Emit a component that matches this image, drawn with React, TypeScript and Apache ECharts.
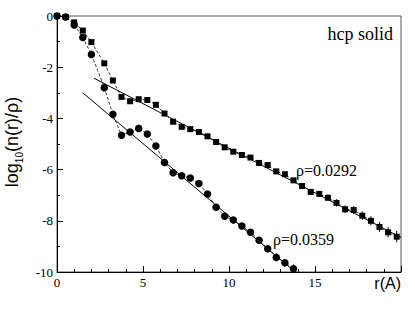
import React, { useEffect, useRef } from "react";
import * as echarts from "echarts";

const rValues = [0.0, 0.5, 1.0, 1.5, 2.0, 2.75, 3.25, 3.75, 4.25, 4.75, 5.25, 5.75, 6.25, 6.75, 7.25, 7.75, 8.25, 8.75, 9.25, 9.75, 10.25, 10.75, 11.25, 11.75, 12.25, 12.75, 13.25, 13.75, 14.25, 14.75, 15.25, 15.75, 16.25, 16.75, 17.25, 17.75, 18.25, 18.75, 19.25, 19.75];

const squareValues = [0.0, -0.04, -0.25, -0.57, -1.02, -1.85, -2.52, -3.16, -3.33, -3.25, -3.28, -3.47, -3.81, -4.13, -4.33, -4.42, -4.53, -4.70, -4.92, -5.13, -5.30, -5.43, -5.53, -5.74, -5.82, -6.07, -6.18, -6.42, -6.64, -6.87, -6.95, -7.10, -7.30, -7.55, -7.58, -7.80, -8.00, -8.24, -8.45, -8.62];
const squareErrors = [0, 0, 0, 0, 0, 0, 0, 0, 0, 0, 0, 0, 0, 0, 0, 0, 0, 0, 0, 0, 0, 0, 0, 0, 0, 0, 0.06, 0.08, 0.1, 0.1, 0.12, 0.12, 0.14, 0.15, 0.15, 0.17, 0.18, 0.19, 0.2, 0.22];

const circleValues = [0.0, -0.04, -0.35, -0.84, -1.5, -2.8, -3.84, -4.66, -4.53, -4.39, -4.61, -5.08, -5.72, -6.12, -6.24, -6.33, -6.54, -6.95, -7.47, -7.82, -7.97, -8.2, -8.45, -8.76, -9.09, -9.43, -9.64, -9.87];
const circleErrors = [0, 0, 0, 0, 0, 0, 0, 0, 0, 0, 0, 0, 0, 0, 0, 0, 0, 0, 0, 0, 0.08, 0.1, 0.1, 0.12, 0.12, 0.14, 0.15, 0.16];

const fitSquareR = [2.15, 20.0];
const fitSquareY = [-2.43, -8.65];
const fitCircleR = [1.5, 13.85];
const fitCircleY = [-3.0, -10.0];

const labelSquare = "ρ=0.0292";
const labelCircle = "ρ=0.0359";
const panelTitle = "hcp solid";
const xTitle = "r(A)";

const serif = "Liberation Serif";
const sans = "Liberation Sans";

function errorSeries(values: number[], errors: number[]) {
  return {
    type: "custom",
    silent: true,
    z: 3,
    renderItem: (params: any, api: any) => {
      const x = api.value(0);
      const y = api.value(1);
      const e = api.value(2);
      if (!e) return { type: "group", children: [] };
      const a = api.coord([x, y + e]);
      const b = api.coord([x, y - e]);
      return {
        type: "line",
        shape: { x1: a[0], y1: a[1], x2: b[0], y2: b[1] },
        style: { stroke: "#000", lineWidth: 1 },
      };
    },
    data: values.map((v, i) => [rValues[i], v, errors[i]]),
  };
}

export default function App() {
  const ref = useRef<HTMLDivElement>(null);
  useEffect(() => {
    if (!ref.current) return;
    const chart = echarts.init(ref.current, undefined, { renderer: "svg" });
    chart.setOption({
      animation: false,
      backgroundColor: "#fff",
      grid: {
        left: 57,
        top: 16,
        right: 14,
        bottom: 49,
        show: true,
        borderColor: "#555",
        borderWidth: 1,
        backgroundColor: "transparent",
      },
      xAxis: {
        type: "value",
        min: 0,
        max: 20,
        interval: 5,
        axisLine: { show: true, onZero: false, lineStyle: { color: "#000", width: 1 } },
        axisTick: { show: true, inside: true, length: 6, lineStyle: { color: "#000" } },
        minorTick: { show: true, splitNumber: 5, length: 3, lineStyle: { color: "#000" } },
        splitLine: { show: false },
        axisLabel: {
          show: true,
          margin: 4,
          color: "#000",
          fontFamily: serif,
          fontSize: 13,
          showMaxLabel: false,
          formatter: (v: number) => (v >= 20 ? "" : String(v)),
        },
      },
      yAxis: {
        type: "value",
        min: -10,
        max: 0,
        interval: 2,
        axisLine: { show: true, onZero: false, lineStyle: { color: "#000", width: 1 } },
        axisTick: { show: true, inside: true, length: 6, lineStyle: { color: "#000" } },
        minorTick: { show: true, splitNumber: 2, length: 3, lineStyle: { color: "#000" } },
        splitLine: { show: false },
        axisLabel: {
          show: true,
          margin: 4,
          color: "#000",
          fontFamily: serif,
          fontSize: 13,
        },
      },
      graphic: [
        {
          type: "text",
          x: 12,
          y: 142,
          rotation: Math.PI / 2,
          style: {
            text: "{a|log}{b|10}{a|(n(r)/ρ)}",
            align: "center",
            verticalAlign: "middle",
            fill: "#000",
            rich: {
              a: { fontFamily: sans, fontSize: 18, lineHeight: 24, fill: "#000" },
              b: { fontFamily: sans, fontSize: 10, lineHeight: 10, verticalAlign: "bottom", fill: "#000" },
            },
          },
        },
        {
          type: "text",
          x: 401,
          y: 275,
          style: { text: xTitle, align: "right", verticalAlign: "top", fontFamily: sans, fontSize: 16, fill: "#000" },
        },
        {
          type: "text",
          x: 393,
          y: 25,
          style: { text: panelTitle, align: "right", verticalAlign: "top", fontFamily: serif, fontSize: 18, fill: "#000" },
        },
        {
          type: "text",
          x: 296,
          y: 162,
          style: { text: labelSquare, align: "left", verticalAlign: "top", fontFamily: serif, fontSize: 16, fill: "#000" },
        },
        {
          type: "text",
          x: 273,
          y: 231,
          style: { text: labelCircle, align: "left", verticalAlign: "top", fontFamily: serif, fontSize: 16, fill: "#000" },
        },
      ],
      series: [
        {
          type: "line",
          data: fitSquareR.map((r, i) => [r, fitSquareY[i]]),
          showSymbol: false,
          symbol: "none",
          lineStyle: { color: "#000", width: 1, type: "solid" },
          z: 1,
          silent: true,
        },
        {
          type: "line",
          data: fitCircleR.map((r, i) => [r, fitCircleY[i]]),
          showSymbol: false,
          symbol: "none",
          lineStyle: { color: "#000", width: 1, type: "solid" },
          z: 1,
          silent: true,
        },
        {
          type: "line",
          data: rValues.map((r, i) => [r, squareValues[i]]),
          symbol: "rect",
          symbolSize: 6,
          itemStyle: { color: "#000" },
          lineStyle: { color: "#333", width: 1, type: [3, 2] },
          z: 2,
        },
        {
          type: "line",
          data: circleValues.map((v, i) => [rValues[i], v]),
          symbol: "circle",
          symbolSize: 7.5,
          itemStyle: { color: "#000" },
          lineStyle: { color: "#333", width: 1, type: [3, 2] },
          z: 2,
        },
        errorSeries(squareValues, squareErrors),
        errorSeries(circleValues, circleErrors),
      ],
    });
    return () => chart.dispose();
  }, []);
  return <div ref={ref} style={{ width: 415, height: 321, position: "absolute", left: 0, top: 0 }} />;
}
